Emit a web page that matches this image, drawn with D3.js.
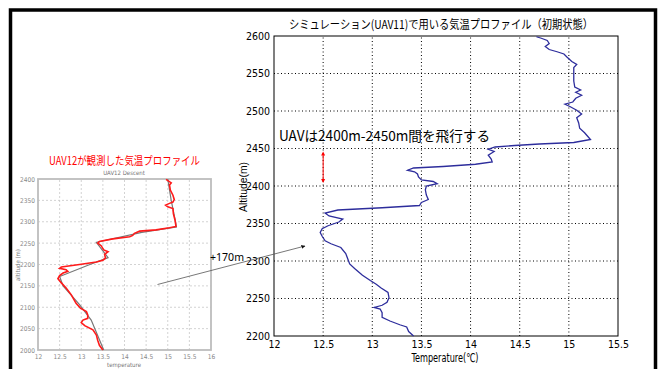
<!DOCTYPE html>
<html>
<head>
<meta charset="utf-8">
<script src="https://cdn.jsdelivr.net/npm/d3@7"></script>
<style>
  body { margin: 0; background: #fff; }
  svg { display: block; }
</style>
</head>
<body>
<script>
// simulation profile (UAV11), top to bottom
const simAltitude = [2599, 2597, 2594, 2590, 2586, 2582, 2579, 2576, 2572, 2566, 2562, 2558, 2550, 2540, 2532, 2528, 2525, 2521, 2517, 2512, 2509, 2506, 2501, 2496, 2491, 2484, 2477, 2471, 2465, 2462, 2458, 2456, 2454, 2452, 2449, 2446, 2441, 2436, 2432, 2429, 2426, 2424, 2421, 2419, 2416, 2412, 2408, 2406, 2403, 2400, 2395, 2388, 2382, 2378, 2374, 2371, 2368, 2364, 2360, 2356, 2352, 2347, 2343, 2338, 2333, 2327, 2323, 2318, 2310, 2303, 2296, 2290, 2281, 2274, 2269, 2264, 2258, 2251, 2245, 2241, 2238, 2236, 2231, 2225, 2220, 2215, 2212, 2206, 2200];
const simTemperature = [14.67, 14.72, 14.78, 14.80, 14.76, 14.80, 14.88, 14.95, 14.98, 15.03, 15.08, 15.05, 15.05, 15.05, 15.06, 15.12, 15.07, 15.13, 15.07, 15.04, 14.96, 15.01, 15.08, 15.13, 15.08, 15.10, 15.11, 15.16, 15.20, 15.22, 15.05, 14.70, 14.45, 14.25, 14.18, 14.24, 14.18, 14.21, 14.22, 14.05, 13.72, 13.42, 13.36, 13.43, 13.46, 13.47, 13.50, 13.62, 13.66, 13.55, 13.54, 13.55, 13.57, 13.50, 13.48, 13.10, 12.65, 12.52, 12.56, 12.70, 12.66, 12.55, 12.49, 12.47, 12.49, 12.52, 12.58, 12.68, 12.73, 12.75, 12.77, 12.82, 12.90, 12.98, 13.04, 13.09, 13.16, 13.17, 13.15, 13.10, 13.02, 13.08, 13.10, 13.10, 13.18, 13.28, 13.35, 13.37, 13.42];

// UAV12 observed profile (red) and smoothed (gray)
const obsAltitude = [2399, 2391, 2386, 2374, 2362, 2352, 2346, 2343, 2339, 2335, 2331, 2319, 2303, 2289, 2286, 2281, 2278, 2273, 2268, 2265, 2260, 2254, 2250, 2244, 2234, 2230, 2224, 2215, 2210, 2206, 2200, 2194, 2191, 2188, 2184, 2180, 2174, 2167, 2157, 2145, 2129, 2109, 2098, 2090, 2082, 2074, 2070, 2064, 2057, 2047, 2035, 2023, 2011, 2000];
const obsTemperature = [14.96, 15.08, 15.04, 15.06, 15.12, 15.15, 15.12, 15.04, 14.95, 15.00, 15.12, 15.13, 15.17, 15.19, 15.04, 14.73, 14.35, 14.23, 14.19, 14.12, 13.73, 13.42, 13.38, 13.46, 13.52, 13.62, 13.54, 13.56, 13.50, 13.35, 12.96, 12.54, 12.50, 12.65, 12.69, 12.58, 12.50, 12.46, 12.54, 12.65, 12.77, 12.88, 12.98, 13.12, 13.15, 13.15, 13.04, 13.00, 13.08, 13.27, 13.35, 13.38, 13.42, 13.50];
const smoothAltitude = [2400, 2350, 2300, 2288, 2275, 2252, 2216, 2200, 2172, 2150, 2106, 2070, 2000];
const smoothTemperature = [15.00, 15.08, 15.18, 15.20, 14.40, 13.35, 13.62, 13.20, 12.50, 12.58, 12.96, 13.23, 13.52];

const mainTempTicks = [12, 12.5, 13, 13.5, 14, 14.5, 15, 15.5];
const mainAltTicks = [2200, 2250, 2300, 2350, 2400, 2450, 2500, 2550, 2600];
const insetTempTicks = [12, 12.5, 13, 13.5, 14, 14.5, 15, 15.5, 16];
const insetAltTicks = [2000, 2050, 2100, 2150, 2200, 2250, 2300, 2350, 2400];
const flightBand = [2446, 2404];

const W = 667, H = 369;
const svg = d3.select('body').append('svg').attr('width', W).attr('height', H);

// outer frame
svg.append('rect')
  .attr('x', 10.5).attr('y', 10).attr('width', 645).attr('height', 400)
  .attr('fill', 'none').attr('stroke', '#000').attr('stroke-width', 3.5);

// ---------- main chart ----------
const x = d3.scaleLinear().domain([12, 15.5]).range([274, 618]);
const y = d3.scaleLinear().domain([2200, 2600]).range([336, 36]);
const narrow = "'Liberation Sans Narrow', 'DejaVu Sans Condensed', sans-serif";

const main = svg.append('g');

main.append('g').selectAll('line')
  .data(mainTempTicks.slice(1, -1)).enter().append('line')
  .attr('x1', d => x(d)).attr('x2', d => x(d))
  .attr('y1', y(2200)).attr('y2', y(2600))
  .attr('stroke', '#000').attr('stroke-width', 1).attr('stroke-dasharray', '1,2.5');
main.append('g').selectAll('line')
  .data(mainAltTicks.slice(1, -1)).enter().append('line')
  .attr('x1', x(12)).attr('x2', x(15.5))
  .attr('y1', d => y(d)).attr('y2', d => y(d))
  .attr('stroke', '#000').attr('stroke-width', 1).attr('stroke-dasharray', '1,2.5');

main.append('rect')
  .attr('x', x(12)).attr('y', y(2600))
  .attr('width', x(15.5) - x(12)).attr('height', y(2200) - y(2600))
  .attr('fill', 'none').attr('stroke', '#000').attr('stroke-width', 1);

const xAxis = main.append('g')
  .attr('transform', `translate(0,${y(2200)})`)
  .call(d3.axisBottom(x).tickValues(mainTempTicks).tickSize(0).tickPadding(5).tickFormat(d => String(d)));
const yAxis = main.append('g')
  .attr('transform', `translate(${x(12)},0)`)
  .call(d3.axisLeft(y).tickValues(mainAltTicks).tickSize(0).tickPadding(4).tickFormat(d => String(d)));
[xAxis, yAxis].forEach(a => {
  a.select('.domain').remove();
  a.selectAll('text').attr('font-family', narrow).attr('font-size', 10.5).attr('fill', '#000');
});

const simLine = d3.line().x(d => x(d[1])).y(d => y(d[0])).curve(d3.curveLinear);
main.append('path')
  .datum(simAltitude.map((a, i) => [a, simTemperature[i]]))
  .attr('d', simLine)
  .attr('fill', 'none').attr('stroke', '#2d2d9c').attr('stroke-width', 1.3);

// red double arrow for the flight band
main.append('line')
  .attr('x1', x(12.5)).attr('x2', x(12.5))
  .attr('y1', y(flightBand[0]) + 2).attr('y2', y(flightBand[1]) - 2)
  .attr('stroke', '#ff0000').attr('stroke-width', 1);
flightBand.forEach((a, i) => {
  const py = y(a), dir = i === 0 ? 1 : -1;
  main.append('path')
    .attr('d', `M${x(12.5)},${py} l-2,${dir * 4} l4,0 z`)
    .attr('fill', '#ff0000');
});

main.append('text')
  .attr('x', 441).attr('y', 29).attr('text-anchor', 'middle')
  .attr('font-family', "'Noto Sans CJK JP', sans-serif").attr('font-size', 12)
  .attr('textLength', 304).attr('lengthAdjust', 'spacingAndGlyphs')
  .text('シミュレーション(UAV11)で用いる気温プロファイル（初期状態）');

main.append('text')
  .attr('transform', `translate(247,187) rotate(-90)`).attr('text-anchor', 'middle')
  .attr('font-family', "'Liberation Sans', sans-serif").attr('font-size', 10.5)
  .attr('textLength', 50).attr('lengthAdjust', 'spacingAndGlyphs')
  .text('Altitude(m)');

main.append('text')
  .attr('x', 445).attr('y', 362).attr('text-anchor', 'middle')
  .attr('font-family', narrow).attr('font-size', 12)
  .attr('textLength', 67).attr('lengthAdjust', 'spacingAndGlyphs')
  .text('Temperature(℃)');

main.append('text')
  .attr('x', 279).attr('y', 141)
  .attr('font-family', "'Noto Sans CJK JP', sans-serif").attr('font-size', 14)
  .attr('textLength', 211).attr('lengthAdjust', 'spacingAndGlyphs')
  .text('UAVは2400m-2450m間を飛行する');

// ---------- inset (UAV12) ----------
const ix = d3.scaleLinear().domain([12, 16]).range([38, 211]);
const iy = d3.scaleLinear().domain([2000, 2400]).range([350, 179]);
const inset = svg.append('g');

inset.append('g').selectAll('line')
  .data(insetTempTicks.slice(1, -1)).enter().append('line')
  .attr('x1', d => ix(d)).attr('x2', d => ix(d))
  .attr('y1', iy(2000)).attr('y2', iy(2400))
  .attr('stroke', '#c8c8c8').attr('stroke-width', 0.8).attr('stroke-dasharray', '2,2');
inset.append('g').selectAll('line')
  .data(insetAltTicks.slice(1, -1)).enter().append('line')
  .attr('x1', ix(12)).attr('x2', ix(16))
  .attr('y1', d => iy(d)).attr('y2', d => iy(d))
  .attr('stroke', '#c8c8c8').attr('stroke-width', 0.8).attr('stroke-dasharray', '2,2');

inset.append('rect')
  .attr('x', ix(12)).attr('y', iy(2400))
  .attr('width', ix(16) - ix(12)).attr('height', iy(2000) - iy(2400))
  .attr('fill', 'none').attr('stroke', '#bdbdbd').attr('stroke-width', 1.8);

const ixAxis = inset.append('g')
  .attr('transform', `translate(0,${iy(2000)})`)
  .call(d3.axisBottom(ix).tickValues(insetTempTicks).tickSize(0).tickPadding(4).tickFormat(d => String(d)));
const iyAxis = inset.append('g')
  .attr('transform', `translate(${ix(12)},0)`)
  .call(d3.axisLeft(iy).tickValues(insetAltTicks).tickSize(0).tickPadding(3).tickFormat(d => String(d)));
[ixAxis, iyAxis].forEach(a => {
  a.select('.domain').remove();
  a.selectAll('text').attr('font-family', narrow).attr('font-size', 6.5).attr('fill', '#888');
});

const obsLine = d3.line().x(d => ix(d[1])).y(d => iy(d[0]));
inset.append('path')
  .datum(smoothAltitude.map((a, i) => [a, smoothTemperature[i]]))
  .attr('d', obsLine)
  .attr('fill', 'none').attr('stroke', '#777').attr('stroke-width', 1.2);
inset.append('path')
  .datum(obsAltitude.map((a, i) => [a, obsTemperature[i]]))
  .attr('d', obsLine)
  .attr('fill', 'none').attr('stroke', '#ff1a1a').attr('stroke-width', 1.6);

inset.append('text')
  .attr('x', 124.5).attr('y', 165).attr('text-anchor', 'middle')
  .attr('font-family', "'Noto Sans CJK JP', sans-serif").attr('font-size', 11.5).attr('fill', '#ff0000')
  .attr('textLength', 151).attr('lengthAdjust', 'spacingAndGlyphs')
  .text('UAV12が観測した気温プロファイル');
inset.append('text')
  .attr('x', 124).attr('y', 175).attr('text-anchor', 'middle')
  .attr('font-family', narrow).attr('font-size', 6).attr('fill', '#777')
  .text('UAV12 Descent');
inset.append('text')
  .attr('x', 124).attr('y', 367).attr('text-anchor', 'middle')
  .attr('font-family', narrow).attr('font-size', 6).attr('fill', '#777')
  .text('temperature');
inset.append('text')
  .attr('transform', 'translate(20,265) rotate(-90)').attr('text-anchor', 'middle')
  .attr('font-family', narrow).attr('font-size', 6).attr('fill', '#777')
  .text('altitude (m)');

// +170m arrow linking the two plots
svg.append('defs').append('marker')
  .attr('id', 'head').attr('viewBox', '0 0 10 10').attr('refX', 9).attr('refY', 5)
  .attr('markerWidth', 5).attr('markerHeight', 5).attr('orient', 'auto')
  .append('path').attr('d', 'M0,0 L10,5 L0,10 z').attr('fill', '#111');
svg.append('line')
  .attr('x1', 157.5).attr('y1', 284.5).attr('x2', 305).attr('y2', 246)
  .attr('stroke', '#555').attr('stroke-width', 0.8)
  .attr('marker-end', 'url(#head)');
svg.append('text')
  .attr('x', 210).attr('y', 260.5)
  .attr('font-family', "'Noto Sans', sans-serif").attr('font-size', 11.5)
  .attr('textLength', 34).attr('lengthAdjust', 'spacingAndGlyphs')
  .text('+170m');
</script>
</body>
</html>
